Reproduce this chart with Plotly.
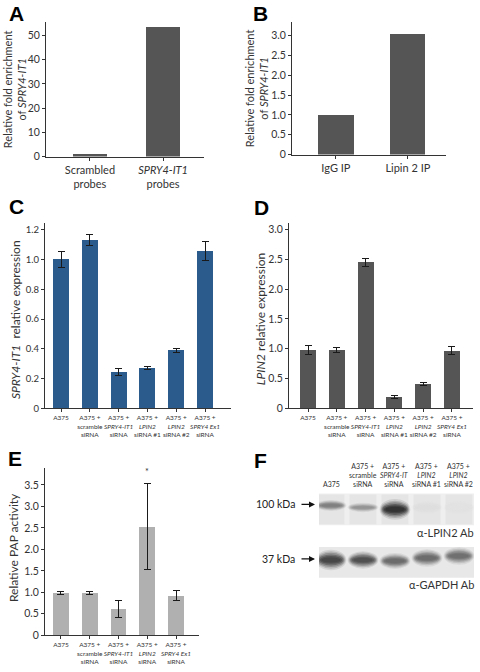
import plotly.graph_objects as go

W, H = 480, 672
FONT = "Lato"


def px(x):
    return x / W


def py(y):
    return 1 - y / H


# ---------------- data ----------------
a_cats = ["Scrambled<br>probes", "<i>SPRY4-IT1</i><br>probes"]
a_vals = [1.3, 53.8]
a_yticks = [0, 10, 20, 30, 40, 50]

b_cats = ["IgG IP", "Lipin 2 IP"]
b_vals = [1.0, 3.05]
b_yticks = [0, 0.5, 1.0, 1.5, 2.0, 2.5, 3.0]

c_cats = ["A375", "A375 +<br>scramble<br>siRNA", "A375 +<br><i>SPRY4-IT1</i><br>siRNA",
          "A375 +<br><i>LPIN2</i><br>siRNA #1", "A375 +<br><i>LPIN2</i><br>siRNA #2",
          "A375 +<br><i>SPRY4 Ex1</i><br>siRNA"]
c_vals = [1.0, 1.13, 0.245, 0.27, 0.39, 1.055]
c_err = [0.055, 0.035, 0.025, 0.01, 0.015, 0.065]
c_yticks = [0, 0.2, 0.4, 0.6, 0.8, 1.0, 1.2]

d_cats = c_cats
d_vals = [0.98, 0.98, 2.45, 0.19, 0.40, 0.97]
d_err = [0.08, 0.04, 0.07, 0.03, 0.025, 0.07]
d_yticks = [0, 0.5, 1.0, 1.5, 2.0, 2.5, 3.0]

e_cats = ["A375", "A375 +<br>scramble<br>siRNA", "A375 +<br><i>SPRY4-IT1</i><br>siRNA",
          "A375 +<br><i>LPIN2</i><br>siRNA", "A375 +<br><i>SPRY4 Ex1</i><br>siRNA"]
e_vals = [0.99, 0.99, 0.61, 2.53, 0.93]
e_err = [0.03, 0.03, 0.2, 1.0, 0.12]
e_yticks = [0, 0.5, 1.0, 1.5, 2.0, 2.5, 3.0, 3.5]
e_sig_index = 3

f_lanes = ["A375", "A375 +<br>scramble<br>siRNA", "A375 +<br><i>SPRY4-IT</i><br>siRNA",
           "A375 +<br><i>LPIN2</i><br>siRNA #1", "A375 +<br><i>LPIN2</i><br>siRNA #2"]
f_lpin2 = [0.55, 0.45, 0.95, 0.07, 0.05]
f_gapdh = [0.85, 0.80, 0.66, 0.66, 0.64]


def fmt(v):
    return "0" if v == 0 else (f"{v:.1f}" if isinstance(v, float) else str(v))


fig = go.Figure()

panels = [
    # key, cats, vals, err, color, width, xdom(px), ydom(px: baseline, top), xrange, yrange, yticks, ytickfont, xtickfont
    ("", a_cats, a_vals, None, "#555555", 0.47, (46, 204), (158, 22), (-0.6, 1.56), (0, 55.7), a_yticks, 10.5, 11),
    ("2", b_cats, b_vals, None, "#555555", 0.49, (292, 446), (156, 22), (-0.61, 1.53), (0, 3.35), b_yticks, 10.5, 11),
    ("3", c_cats, c_vals, c_err, "#2b5b8c", 0.555, (45, 231), (412, 225), (-0.556, 5.9), (0, 1.245), c_yticks, 9.5, 6.5),
    ("4", d_cats, d_vals, d_err, "#555555", 0.555, (289, 473), (412, 225), (-0.66, 5.73), (0, 3.11), d_yticks, 10.5, 6.5),
    ("5", e_cats, e_vals, e_err, "#b0b0b0", 0.555, (45, 199), (641, 472), (-0.556, 4.8), (0, 3.9), e_yticks, 10.5, 6.5),
]

layout_axes = {}
for key, cats, vals, err, color, bw, xd, yd, xr, yr, yt, ytf, xtf in panels:
    n = len(cats)
    xs = list(range(n))
    bar = dict(x=xs, y=vals, width=bw, marker=dict(color=color, line=dict(width=0)),
               xaxis="x" + key, yaxis="y" + key, showlegend=False, hoverinfo="skip")
    if err is not None:
        bar["error_y"] = dict(type="data", array=err, color="#1a1a1a", thickness=1, width=3.5)
    fig.add_trace(go.Bar(**bar))
    xname = "xaxis" + key
    yname = "yaxis" + key
    layout_axes[xname] = dict(
        domain=[px(xd[0]), px(xd[1])], range=list(xr), anchor="y" + key,
        tickvals=xs, ticktext=cats, tickangle=0, ticks="outside", ticklen=3, tickwidth=1,
        tickcolor="#333", showline=True, linecolor="#333", linewidth=1, showgrid=False,
        zeroline=False, tickfont=dict(family=FONT, size=xtf, color="#333"), fixedrange=True,
    )
    layout_axes[yname] = dict(
        domain=[py(yd[0]), py(yd[1])], range=list(yr), anchor="x" + key,
        tickvals=yt, ticktext=[fmt(v) for v in yt], ticks="outside", ticklen=3, tickwidth=1,
        tickcolor="#333", showline=True, linecolor="#333", linewidth=1, showgrid=False,
        zeroline=False, tickfont=dict(family=FONT, size=ytf, color="#333"), fixedrange=True,
    )

# Panel F axis (lanes)
layout_axes["xaxis6"] = dict(domain=[px(319), px(474)], range=[-0.375, 4.47], anchor="y6",
                             visible=False, fixedrange=True)
layout_axes["yaxis6"] = dict(domain=[py(600), py(460)], range=[0, 1], anchor="x6",
                             visible=False, fixedrange=True)
fig.add_trace(go.Scatter(x=[0], y=[0], xaxis="x6", yaxis="y6", mode="markers",
                         marker=dict(opacity=0), showlegend=False, hoverinfo="skip"))

shapes = []
annotations = []


def gray(t):
    g = int(236 - t * 200)
    return f"rgb({g},{g},{g})"


# blot backgrounds
shapes.append(dict(type="rect", xref="x6", yref="paper", x0=-0.375, x1=4.47,
                   y0=py(530), y1=py(498), fillcolor="#efefef", line=dict(width=0), layer="below"))
for i in range(len(f_lanes)):
    shapes.append(dict(type="rect", xref="x6", yref="paper", x0=i - 0.42, x1=i + 0.42,
                       y0=py(529), y1=py(499), fillcolor="#e5e5e5", line=dict(width=0), layer="below"))
shapes.append(dict(type="rect", xref="x6", yref="paper", x0=-0.53, x1=4.47,
                   y0=py(583), y1=py(552), fillcolor="#e8e8e8", line=dict(width=0), layer="below"))

# bands (soft, layered ellipses)
lp_y = [510, 512, 514, 512, 512]
lp_h = [7, 6, 13, 8, 8]
ga_y = [565, 565, 566, 563, 561]
ga_h = [13, 11, 10, 11, 11]
layers = ((0.48, 1.6, 0.12), (0.45, 1.35, 0.2), (0.42, 1.1, 0.3), (0.39, 0.85, 0.45),
          (0.35, 0.6, 0.6), (0.3, 0.4, 0.7))
for row_vals, ys, hs in ((f_lpin2, lp_y, lp_h), (f_gapdh, ga_y, ga_h)):
    for i, t in enumerate(row_vals):
        for sw, sh, op in layers:
            shapes.append(dict(type="circle", xref="x6", yref="paper",
                               x0=i - sw, x1=i + sw,
                               y0=py(ys[i] + hs[i] * sh / 2), y1=py(ys[i] - hs[i] * sh / 2),
                               fillcolor=gray(t), opacity=op, line=dict(width=0)))

# lane labels
for i, lab in enumerate(f_lanes):
    annotations.append(dict(x=i, y=py(494), xref="x6", yref="paper", text=lab, showarrow=False,
                            yanchor="bottom", xanchor="center", align="center",
                            font=dict(family=FONT, size=7, color="#333")))

# kDa markers
for txt, yy in (("100 kDa", 509), ("37 kDa", 564)):
    annotations.append(dict(x=px(297), y=py(yy), xref="paper", yref="paper", text=txt,
                            showarrow=False, xanchor="right", yanchor="middle",
                            font=dict(family=FONT, size=10.5, color="#222")))
    annotations.append(dict(x=px(315), y=py(yy), xref="paper", yref="paper", text="",
                            showarrow=True, ax=-15, ay=0, arrowhead=2, arrowsize=1,
                            arrowwidth=1.2, arrowcolor="#111"))

for txt, yy in (("α-LPIN2 Ab", 537), ("α-GAPDH Ab", 590)):
    annotations.append(dict(x=px(476), y=py(yy), xref="paper", yref="paper", text=txt,
                            showarrow=False, xanchor="right", yanchor="middle",
                            font=dict(family=FONT, size=11, color="#333")))

# panel letters
for letter, x, y in (("A", 16, 14), ("B", 260, 14), ("C", 16, 208), ("D", 261, 209),
                     ("E", 15, 463), ("F", 260, 465)):
    annotations.append(dict(x=px(x), y=py(y), xref="paper", yref="paper", text=f"<b>{letter}</b>",
                            showarrow=False, xanchor="center", yanchor="middle",
                            font=dict(family="Liberation Sans", size=21, color="#000")))

# y-axis titles
for txt, x, y, size in (("Relative fold enrichment<br>of <i>SPRY4-IT1</i>", 14, 90, 11),
                        ("Relative fold enrichment<br>of <i>SPRY4-IT1</i>", 256, 89, 11),
                        ("<i>SPRY4-IT1</i>  relative expression", 15, 323, 12),
                        ("<i>LPIN2</i> relative expression", 260, 322, 12),
                        ("Relative PAP activity", 13, 553, 12)):
    annotations.append(dict(x=px(x), y=py(y), xref="paper", yref="paper", text=txt,
                            showarrow=False, textangle=-90, xanchor="center", yanchor="middle",
                            font=dict(family=FONT, size=size, color="#333")))

# significance asterisk
annotations.append(dict(x=e_sig_index, y=e_vals[e_sig_index] + e_err[e_sig_index] + 0.1,
                        xref="x5", yref="y5", text="*", showarrow=False, yanchor="bottom",
                        font=dict(family=FONT, size=9, color="#333")))

fig.update_layout(
    width=W, height=H, margin=dict(l=0, r=0, t=0, b=0),
    paper_bgcolor="white", plot_bgcolor="white",
    shapes=shapes, annotations=annotations, bargap=0,
    font=dict(family=FONT, color="#333"),
    **layout_axes,
)

fig.write_html("out.html", config={"displayModeBar": False},
               post_script="document.body.style.margin='0';document.body.style.padding='0';")
